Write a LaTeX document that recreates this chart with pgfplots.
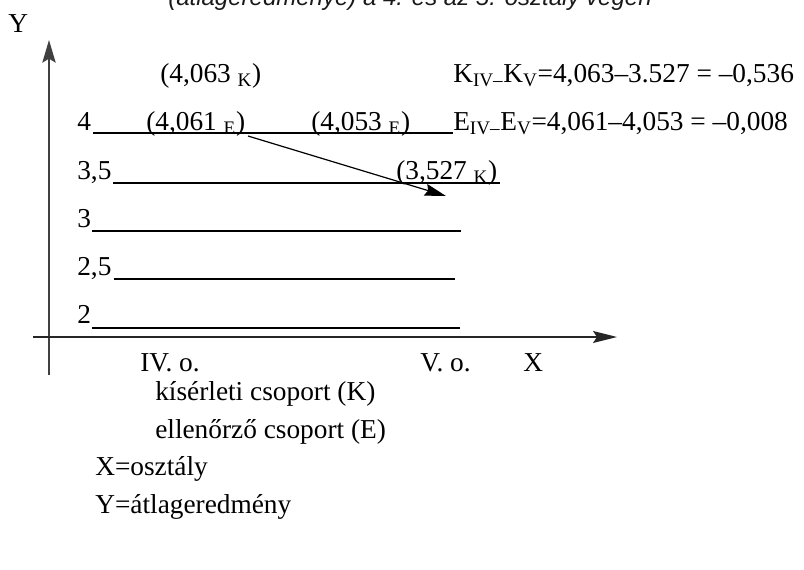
\documentclass[border=0pt]{standalone}
\usepackage{fontspec}
\setmainfont{Liberation Serif}
\newfontfamily\titlefont{Liberation Sans}
\usepackage{pgfplots}
\pgfplotsset{compat=1.18}
\usetikzlibrary{arrows.meta}
\tikzset{lbl/.style={inner sep=0pt, anchor=base west,
    font=\fontsize{20.5}{24}\selectfont}}

\begin{document}
\begin{tikzpicture}
% picture area: 804 x 569 px, 1 px = 0.75 pt
\path[use as bounding box, clip] (0,0) rectangle (603pt,426.75pt);
\begin{axis}[
    at={(0,0)}, anchor=south west,
    scale only axis, width=603pt, height=426.75pt,
    xmin=0, xmax=804, ymin=0, ymax=569, y dir=reverse,
    hide axis, clip=false,
  ]
  % axes with arrows
  \addplot[black!75, line width=1.1pt, -{Stealth[length=17pt, width=10pt, inset=3pt]}]
    coordinates {(49,375) (49,40)};
  \addplot[black!85, line width=1.1pt, -{Stealth[length=18pt, width=9pt, inset=3pt]}]
    coordinates {(33,337) (617,337)};

  % level lines (2, 2.5, 3, 3.5, 4)
  \addplot[black, line width=0.9pt] coordinates {(92,328) (460,328)};
  \addplot[black, line width=0.9pt] coordinates {(114,279) (455,279)};
  \addplot[black, line width=0.9pt] coordinates {(92,231) (461,231)};
  \addplot[black, line width=0.9pt] coordinates {(113,183) (500,183)};
  \addplot[black, line width=0.9pt] coordinates {(93,133) (453,133)};

  % change arrow E -> K
  \addplot[black, line width=0.9pt, -{Stealth[length=16pt, width=9pt, inset=2pt]}]
    coordinates {(248,136) (446,196)};

  % title (cut off at the top, as in the reference)
  \node[inner sep=0pt, anchor=base, font=\titlefont\itshape\fontsize{18}{20}\selectfont, text=black!90]
    at (axis cs:410,5) {(átlageredménye) a 4. és az 5. osztály végén};

  \node[lbl] at (axis cs:8,32) {Y};
  \node[lbl] at (axis cs:160,82) {(4,063 \textsubscript{K})};
  \node[lbl] at (axis cs:453,82) {K\textsubscript{IV–}K\textsubscript{V}=4,063–3.527 = –0,536};
  \node[lbl] at (axis cs:77,130) {4};
  \node[lbl] at (axis cs:146,130) {(4,061 \textsubscript{E})};
  \node[lbl] at (axis cs:311,130) {(4,053 \textsubscript{E})};
  \node[lbl] at (axis cs:453,130) {E\textsubscript{IV–}E\textsubscript{V}=4,061–4,053 = –0,008};
  \node[lbl] at (axis cs:77,179) {3,5};
  \node[lbl] at (axis cs:396,179) {(3,527 \textsubscript{K})};
  \node[lbl] at (axis cs:77,227) {3};
  \node[lbl] at (axis cs:77,275) {2,5};
  \node[lbl] at (axis cs:77,323) {2};

  \node[lbl] at (axis cs:140,371) {IV. o.};
  \node[lbl] at (axis cs:420,371) {V. o.};
  \node[lbl] at (axis cs:523,371) {X};

  \node[lbl] at (axis cs:155,400) {kísérleti csoport (K)};
  \node[lbl] at (axis cs:155,438) {ellenőrző csoport (E)};
  \node[lbl] at (axis cs:95,475) {X=osztály};
  \node[lbl] at (axis cs:95,513) {Y=átlageredmény};
\end{axis}
\end{tikzpicture}
\end{document}
